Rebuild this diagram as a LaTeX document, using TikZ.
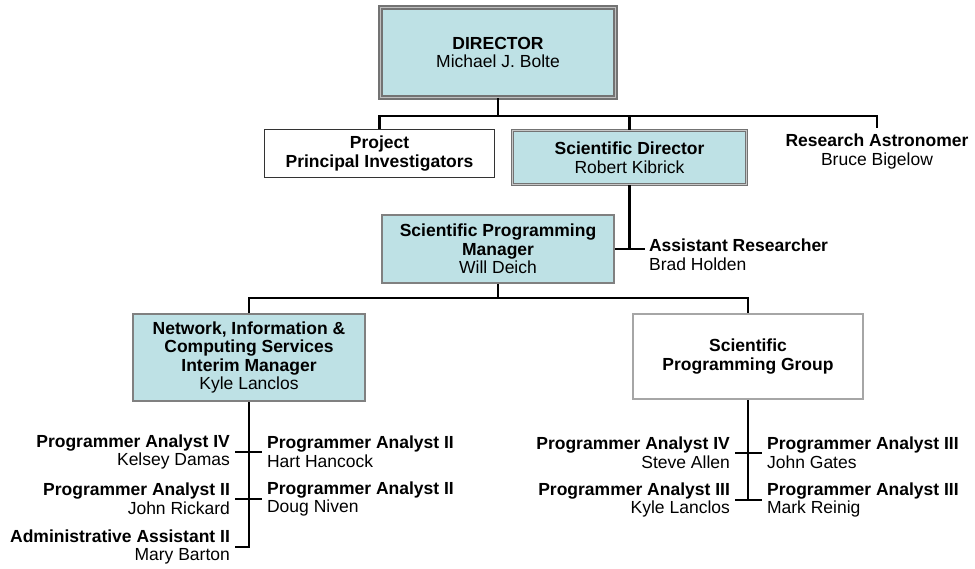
\documentclass[tikz,border=0pt]{standalone}
\usepackage{fontspec}
\setmainfont{Liberation Sans}
\usepackage{tikz}
\definecolor{boxblue}{RGB}{190,225,229}

\begin{document}
\begin{tikzpicture}
	[x=1pt,y=-1pt,line width=2.2pt,
		every node/.style={font=\fontsize{17.5}{18.6}\selectfont,align=center,inner sep=0pt},
		base node/.style={rectangle,minimum width=#1},
		dir node/.style={base node=235pt,fill=boxblue,draw=black!55,double=black!25,line width=1.8pt,double distance=1.4pt,minimum height=90pt},
		head node/.style={base node=234pt,fill=boxblue,draw=black!55,double=black!22,line width=1.1pt,double distance=1pt,minimum height=54pt},
		blue node/.style={base node=232pt,fill=boxblue,draw=black!50,line width=2pt},
		white node/.style={base node=230pt,fill=white,draw=#1},
		staff left/.style={anchor=east,align=right,inner xsep=4pt},
		staff right/.style={anchor=west,align=left,inner xsep=4pt}]

	\useasboundingbox (0,0) rectangle (975,569);

	% boxes
	\node[dir node] (dir) at (498,52.5) {\textbf{DIRECTOR}\\Michael J. Bolte};
	\node[white node=black!80,line width=1.4pt,minimum height=48pt] (ppi) at (379.5,153.5) {\textbf{Project}\\\textbf{Principal Investigators}};
	\node[head node] (sdir) at (629.5,157.5) {\textbf{Scientific Director}\\Robert Kibrick};
	\node (rastro) at (877,151.5) {\textbf{Research Astronomer}\\Bruce Bigelow};
	\node[blue node,minimum height=68pt] (spm) at (498,249) {\textbf{Scientific Programming}\\\textbf{Manager}\\Will Deich};
	\node[anchor=west,align=left,inner xsep=3pt] (ares) at (645,255) {\textbf{Assistant Researcher}\\Brad Holden};
	\node[blue node,minimum height=87pt] (nics) at (249,357.5) {\textbf{Network, Information \&}\\\textbf{Computing Services}\\\textbf{Interim Manager}\\Kyle Lanclos};
	\node[white node=black!35,line width=2pt,minimum height=85pt] (spg) at (748,356.5) {\textbf{Scientific}\\\textbf{Programming Group}};

	% staff
	\node[staff left] (kdamas) at (235,452) {\textbf{Programmer Analyst IV}\\Kelsey Damas};
	\node[staff right] (hhancock) at (262,452) {\textbf{Programmer Analyst II}\\Hart Hancock};
	\node[staff left] (jrickard) at (235,499) {\textbf{Programmer Analyst II}\\John Rickard};
	\node[staff right] (dniven) at (262,499) {\textbf{Programmer Analyst II}\\Doug Niven};
	\node[staff left] (mbarton) at (235,547) {\textbf{Administrative Assistant II}\\Mary Barton};

	\node[staff left] (sallen) at (735,453) {\textbf{Programmer Analyst IV}\\Steve Allen};
	\node[staff right] (jgates) at (762,453) {\textbf{Programmer Analyst III}\\John Gates};
	\node[staff left] (klanclos) at (735,500) {\textbf{Programmer Analyst III}\\Kyle Lanclos};
	\node[staff right] (mreinig) at (762,500) {\textbf{Programmer Analyst III}\\Mark Reinig};

	\coordinate (top bar) at (498,116);
	\coordinate (rastro top) at (877,128);
	\coordinate (mid bar) at (498,298);

	% connectors
	\draw (dir.south) -- (top bar);
	\draw (ppi.north) |- (top bar) -| (rastro top);
	\draw (sdir.north) -- (sdir.north |- top bar);
	\draw (sdir.south) -- (sdir.south |- spm.east);
	\draw (spm.east) -- (spm.east -| ares.west);
	\draw (spm.south) -- (mid bar);
	\draw (nics.north) |- (mid bar) -| (spg.north);

	\draw (nics.south) |- (mbarton.east);
	\draw (kdamas.east) -- (hhancock.west);
	\draw (jrickard.east) -- (dniven.west);

	\draw (spg.south) -- (spg.south |- klanclos.east);
	\draw (sallen.east) -- (jgates.west);
	\draw (klanclos.east) -- (mreinig.west);
\end{tikzpicture}
\end{document}
